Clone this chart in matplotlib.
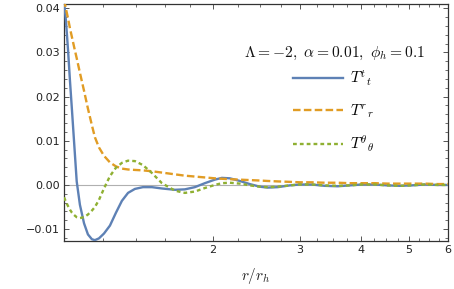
import numpy as np
import matplotlib.pyplot as plt
from matplotlib.ticker import FixedLocator, NullFormatter

plt.rcParams['mathtext.fontset'] = 'cm'
plt.rcParams['font.family'] = 'DejaVu Sans'

# values (r in units of r_h)
r = [1.000, 1.009, 1.019, 1.028, 1.038, 1.048, 1.061, 1.077, 1.098, 1.118,
     1.139, 1.155, 1.177, 1.205, 1.239, 1.274, 1.310, 1.348, 1.392, 1.445,
     1.507, 1.579, 1.678, 1.757, 1.841, 1.929, 2.021, 2.088, 2.168, 2.271,
     2.379, 2.493, 2.587, 2.711, 2.867, 3.003, 3.176, 3.375, 3.585, 3.791,
     4.009, 4.260, 4.526, 4.786, 5.061, 5.378, 5.713, 6.000]

T_tt = [0.0415, 0.0372, 0.0305, 0.0237, 0.0168, 0.0098, 0.0008, -0.0045, -0.0087, -0.0112,
        -0.0123, -0.0125, -0.0121, -0.0110, -0.0092, -0.0063, -0.0036, -0.0018, -0.0009, -0.0005,
        -0.0005, -0.0008, -0.0011, -0.0010, -0.0005, 0.0004, 0.0012, 0.0016, 0.0015, 0.0009,
        0.0002, -0.0004, -0.0006, -0.0005, -0.0001, 0.0001, 0.0001, -0.0002, -0.0003, -0.0001,
        0.0001, 0.0001, -0.0001, -0.0002, -0.0001, 0.0001, 0.0000, 0.0000]

T_rr = [0.0420, 0.0399, 0.0377, 0.0355, 0.0334, 0.0313, 0.0287, 0.0254, 0.0213, 0.0173,
        0.0135, 0.0108, 0.0085, 0.0066, 0.0051, 0.0042, 0.0037, 0.0035, 0.0034, 0.0033,
        0.0031, 0.0028, 0.0024, 0.0021, 0.0019, 0.0017, 0.0015, 0.0014, 0.0013, 0.0012,
        0.0011, 0.0010, 0.0009, 0.0008, 0.0007, 0.0006, 0.0006, 0.0005, 0.0005, 0.0004,
        0.0004, 0.0004, 0.0003, 0.0003, 0.0003, 0.0003, 0.0002, 0.0002]

T_thth = [-0.0028, -0.0038, -0.0048, -0.0056, -0.0063, -0.0068, -0.0073, -0.0075, -0.0073, -0.0067,
          -0.0058, -0.0050, -0.0034, -0.0008, 0.0020, 0.0039, 0.0050, 0.0055, 0.0054, 0.0045,
          0.0027, 0.0004, -0.0013, -0.0018, -0.0015, -0.0007, 0.0000, 0.0004, 0.0005, 0.0003,
          -0.0001, -0.0004, -0.0005, -0.0004, -0.0001, 0.0001, 0.0001, -0.0001, -0.0002, -0.0001,
          0.0001, 0.0001, -0.0001, -0.0002, -0.0001, 0.0001, 0.0000, 0.0000]

x_major = [2, 3, 4, 5, 6]
x_minor = [1.2, 1.4, 1.6, 1.8, 2.25, 2.5, 2.75, 3.25, 3.5, 3.75,
           4.25, 4.5, 4.75, 5.25, 5.5, 5.75]
y_major = [-0.01, 0.00, 0.01, 0.02, 0.03, 0.04]

fig = plt.figure(figsize=(4.54, 2.89), dpi=100)
ax = fig.add_axes([0.141, 0.166, 0.846, 0.819])

ax.axhline(0, color='#b0b0b0', lw=0.8, zorder=1)
ax.plot(r, T_tt, color='#5E81B5', lw=1.7, label=r'$T^{t}{}_{t}$', zorder=3)
ax.plot(r, T_rr, color='#E19C24', lw=1.7, ls=(0, (3.2, 1.4)), label=r'$T^{r}{}_{r}$', zorder=4)
ax.plot(r, T_thth, color='#8FB032', lw=1.7, ls=(0, (1.6, 1.3)), label=r'$T^{\theta}{}_{\theta}$', zorder=5)

ax.set_xscale('log')
ax.set_xlim(1, 6)
ax.set_ylim(-0.0127, 0.0409)
ax.xaxis.set_major_locator(FixedLocator(x_major))
ax.xaxis.set_minor_locator(FixedLocator(x_minor))
ax.xaxis.set_minor_formatter(NullFormatter())
ax.set_xticklabels([str(v) for v in x_major])
ax.yaxis.set_major_locator(FixedLocator(y_major))
ax.yaxis.set_minor_locator(FixedLocator(np.arange(-0.012, 0.041, 0.002)))
ax.set_yticklabels(['\u22120.01', '0.00', '0.01', '0.02', '0.03', '0.04'])

for s in ax.spines.values():
    s.set_color('#333333')
    s.set_linewidth(0.9)
ax.tick_params(which='both', direction='in', top=True, right=True, color='#555555',
               labelsize=8, labelcolor='#222222', pad=3)
ax.tick_params(which='major', length=3.5, width=0.7)
ax.tick_params(which='minor', length=2, width=0.6)

ax.set_xlabel(r'$r/r_h$', fontsize=11, labelpad=8, color='#222222')

# legend header as plain text, entries below it
ax.text(0.703, 0.792, r'$\Lambda=-2,\ \alpha=0.01,\ \phi_h=0.1$', transform=ax.transAxes,
        ha='center', va='center', fontsize=11.2, color='#111111')
leg = ax.legend(frameon=False, loc='upper left', bbox_to_anchor=(0.596, 0.727),
                fontsize=11, handlelength=3.3, handletextpad=0.45,
                labelspacing=0.9, borderpad=0, borderaxespad=0)

fig.savefig('out.png', dpi=100)
